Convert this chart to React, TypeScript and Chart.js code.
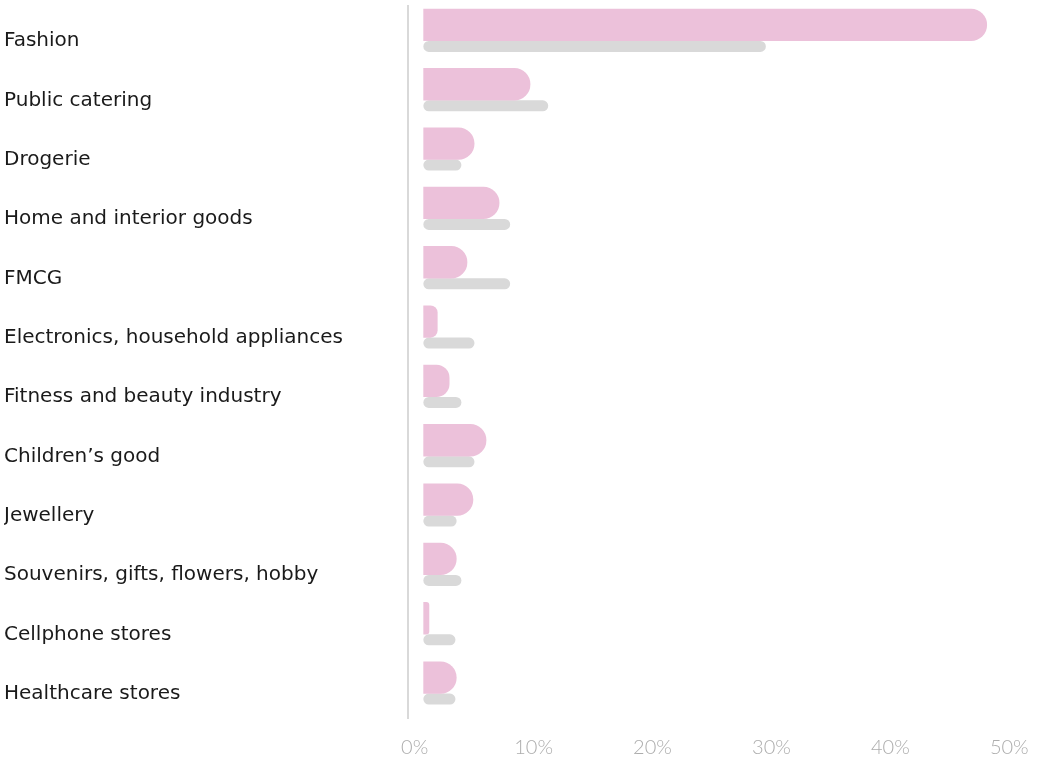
import React, { useEffect, useRef } from "react";
import { Chart, registerables } from "chart.js";

Chart.register(...registerables);

const categories = [
  "Fashion",
  "Public catering",
  "Drogerie",
  "Home and interior goods",
  "FMCG",
  "Electronics, household appliances",
  "Fitness and beauty industry",
  "Children’s good",
  "Jewellery",
  "Souvenirs, gifts, flowers, hobby",
  "Cellphone stores",
  "Healthcare stores",
];

const pinkValues = [47.4, 9.0, 4.3, 6.4, 3.7, 1.2, 2.2, 5.3, 4.2, 2.8, 0.5, 2.8];
const grayValues = [28.8, 10.5, 3.2, 7.3, 7.3, 4.3, 3.2, 4.3, 2.8, 3.2, 2.7, 2.7];

const xTicks = [0, 10, 20, 30, 40, 50];

export default function App() {
  const ref = useRef<HTMLCanvasElement>(null);

  useEffect(() => {
    if (!ref.current) return;
    const chart = new Chart(ref.current, {
      type: "bar",
      data: {
        labels: categories,
        datasets: [
          {
            label: "A",
            data: pinkValues,
            backgroundColor: "#ecc1da",
            borderRadius: 16,
            borderSkipped: "start",
            categoryPercentage: 0.725,
            barPercentage: 1.5,
          },
          {
            label: "B",
            data: grayValues,
            backgroundColor: "#d9d9d9",
            borderRadius: 6,
            borderSkipped: false,
            categoryPercentage: 0.725,
            barPercentage: 0.51,
          },
        ],
      },
      options: {
        indexAxis: "y",
        animation: false,
        responsive: true,
        maintainAspectRatio: false,
        layout: { padding: { left: 4, top: 6, right: 23, bottom: 0 } },
        plugins: {
          legend: { display: false },
          tooltip: { enabled: false },
        },
        scales: {
          x: {
            type: "linear",
            min: -1.29,
            max: 50,
            afterBuildTicks: (axis: any) => {
              axis.ticks = xTicks.map((v) => ({ value: v }));
            },
            afterFit: (scale: any) => {
              scale.height = 44;
              scale.paddingLeft = 0;
              scale.paddingRight = 0;
            },
            grid: { display: false, drawTicks: false },
            border: { display: false },
            ticks: {
              padding: 18,
              labelOffset: -8.7,
              color: "#adadad",
              font: { family: "Lato", size: 20, weight: "300" as any },
              callback: (v: any) => `${v}%`,
            },
          },
          y: {
            afterFit: (scale: any) => {
              scale.width = 404;
              scale.paddingTop = 0;
              scale.paddingBottom = 0;
            },
            grid: { display: false, drawTicks: false },
            border: { display: true, color: "#d9d9d9", width: 2 },
            ticks: {
              crossAlign: "far",
              color: "#1a1a1a",
              font: { family: "DejaVu Sans", size: 20 },
              labelOffset: 5.5,
            },
          },
        },
      },
    });
    return () => chart.destroy();
  }, []);

  return (
    <div style={{ position: "fixed", left: 0, top: 0, width: 1041, height: 762 }}>
      <canvas ref={ref} />
    </div>
  );
}
